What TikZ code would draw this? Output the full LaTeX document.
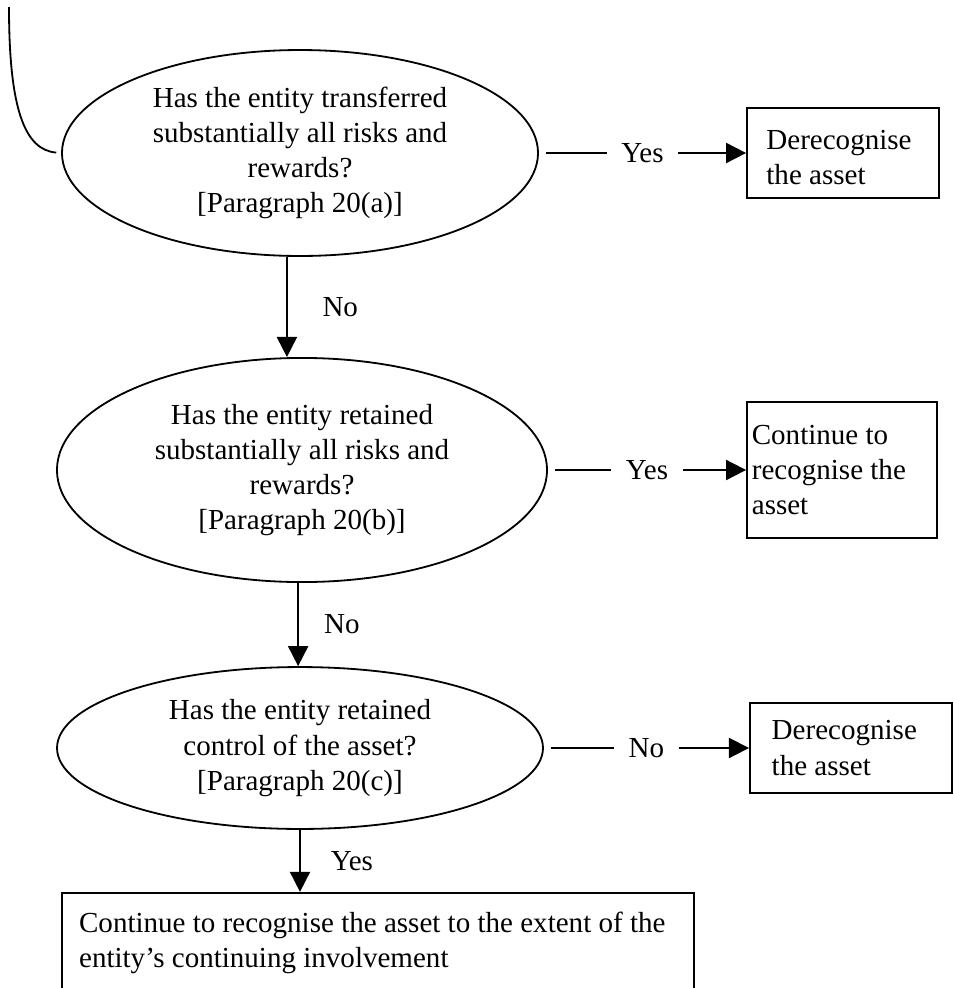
\documentclass[tikz,border=0pt]{standalone}
\usepackage{fontspec}
\setmainfont{Liberation Serif}
\usetikzlibrary{arrows.meta,positioning,shapes.geometric}

\begin{document}
\begin{tikzpicture}[x=0.4132pt,y=-0.4132pt,line width=0.75pt,
	every node/.style={font=\fontsize{12pt}{14.5pt}\selectfont},
	question/.style={ellipse,draw,inner sep=0pt},
	outcome/.style={rectangle,draw,align=flush left,inner ysep=2pt},
	answer/.style={fill=white,inner xsep=6pt},
	>={Triangle[length=8.3pt,width=8.3pt]}]
			\useasboundingbox (0,0) rectangle (954,988);
			\draw (300,153) node [question,minimum width=196.7pt,minimum height=85.1pt] (q1) {\begin{tabular}{@{}c@{}} Has the entity transferred \\ substantially all risks and \\ rewards? \\ {[Paragraph 20(a)]} \end{tabular}};
			\draw (843,153) node [outcome,text width=63.3pt,inner xsep=8pt,minimum height=37.2pt] (d1) {\rule{0pt}{12pt}Derecognise \\ the asset};
			\draw (302,470) node [question,minimum width=202.5pt,minimum height=92.6pt] (q2) {\begin{tabular}{@{}c@{}} Has the entity retained \\ substantially all risks and \\ rewards? \\ {[Paragraph 20(b)]} \end{tabular}};
			\draw (842,470) node [outcome,text width=74.5pt,inner xsep=2pt,minimum height=56.2pt] (c2) {Continue to \\ recognise the \\ asset};
			\draw (300,748) node [question,minimum width=200.8pt,minimum height=66.9pt] (q3) {\begin{tabular}{@{}c@{}} Has the entity retained \\ control of the asset? \\ {[Paragraph 20(c)]} \end{tabular}};
			\draw (851,748) node [outcome,text width=65.5pt,inner xsep=9pt,minimum height=37.2pt] (d3) {Derecognise \\ the asset};
			\draw (378,943) node [outcome,text width=247pt,inner xsep=7pt,minimum height=41.5pt] (c4) {Continue to recognise the asset to the extent of the \\ entity’s continuing involvement};
			\coordinate (entry) at (9,7);
			\draw [shorten >=2pt] (entry) .. controls (9,110) and (25,150) .. (q1.west);
			\path[->]
				(q1) edge [shorten <=3pt] node [answer] {Yes} (d1)
				([xshift=-5.4pt]q1.south) edge node [right=11pt] {No} ([xshift=-5.4pt]q1.south |- q2.north)
				(q2) edge [shorten <=3pt] node [answer] {Yes} (c2)
				([xshift=-1.6pt]q2.south) edge node [right=7pt] {No} ([xshift=-1.6pt]q2.south |- q3.north)
				(q3) edge [shorten <=3pt] node [answer] {No} (d3)
				(q3.south) edge node [right=9pt] {Yes} (q3.south |- c4.north);
		\end{tikzpicture}
\end{document}
